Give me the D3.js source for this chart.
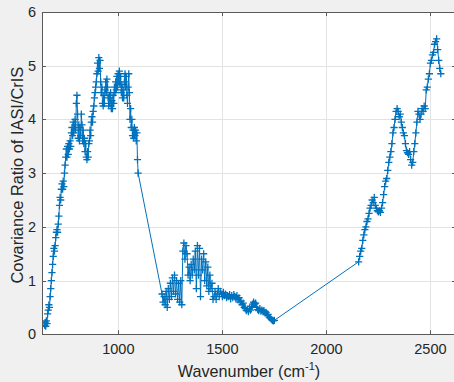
<!DOCTYPE html>
<html>
<head>
<meta charset="utf-8">
<script src="https://cdn.jsdelivr.net/npm/d3@7"></script>
<style>
  html, body { margin: 0; padding: 0; background: #f0f0f0; }
  svg { display: block; }
  text { font-family: "Liberation Sans", Arial, Helvetica, sans-serif; fill: #262626; }
</style>
</head>
<body>
<svg id="chart" width="454" height="382"></svg>
<script>
// ---- Data ----
// Channel grids (wavenumber start, spacing) for the three bands
const lwStart = 645, lwStep = 3;
const mwStart = 1210, mwStep = 5;
const swStart = 2155, swStep = 5;

const lwRatio = [
  0.17,0.22,0.15,0.25,0.2,0.38,0.45,0.55,0.5,0.7,
  0.85,1.0,1.15,1.3,1.45,1.6,1.55,1.65,1.8,1.9,
  1.95,1.9,2.05,2.2,2.4,2.55,2.5,2.7,2.8,2.7,
  2.85,2.75,3.0,3.15,3.3,3.45,3.3,3.5,3.35,3.55,
  3.45,3.6,3.5,3.75,3.85,3.7,3.95,3.75,3.85,4.0,
  3.8,4.3,4.45,4.1,3.65,3.9,3.6,3.85,3.7,4.1,
  3.9,3.6,3.8,3.55,3.65,3.4,3.55,3.3,3.25,3.4,
  3.3,3.55,3.6,3.8,3.7,3.95,4.05,3.95,4.15,4.25,
  4.4,4.5,4.6,4.7,4.85,5.05,4.9,5.15,4.95,5.1,
  4.7,4.5,4.6,4.3,4.25,4.45,4.3,4.55,4.7,4.5,
  4.75,4.6,4.4,4.25,4.45,4.3,4.5,4.2,4.35,4.2,
  4.45,4.3,4.6,4.5,4.7,4.55,4.8,4.6,4.85,4.7,
  4.9,4.65,4.8,4.5,4.65,4.4,4.55,4.4,4.7,4.85,
  4.6,4.8,4.45,4.3,4.6,4.85,4.5,4.0,4.2,3.85,
  4.0,3.7,3.8,3.65,3.85,3.7,3.8,3.6,3.75,3.25,
  3.0
];

const mwRatio = [
  0.75,0.6,0.7,0.55,0.8,0.5,0.85,0.65,0.95,0.7,
  1.05,0.8,1.1,0.75,1.0,0.65,0.95,0.6,1.0,0.55,
  1.55,1.7,1.4,1.65,1.5,1.1,1.25,1.0,1.3,1.1,
  1.4,1.2,1.55,0.85,1.65,1.1,1.6,0.7,1.4,1.2,
  1.5,1.0,1.35,0.9,1.25,0.8,1.1,0.85,0.95,0.65,
  0.7,0.8,0.65,0.75,0.85,0.7,0.8,0.75,0.7,0.78,
  0.72,0.75,0.68,0.72,0.7,0.74,0.66,0.72,0.68,0.74,
  0.7,0.66,0.72,0.64,0.68,0.6,0.62,0.55,0.58,0.5,
  0.48,0.44,0.47,0.42,0.48,0.45,0.52,0.56,0.6,0.56,
  0.58,0.5,0.46,0.44,0.48,0.43,0.45,0.42,0.44,0.4,
  0.41,0.36,0.37,0.32,0.3,0.28,0.26,0.25,0.26
];

const swRatio = [
  1.35,1.45,1.55,1.6,1.75,1.85,1.95,2.0,2.1,2.15,
  2.25,2.35,2.4,2.5,2.45,2.55,2.4,2.35,2.3,2.28,
  2.3,2.27,2.35,2.45,2.6,2.75,2.85,2.9,3.05,3.2,
  3.3,3.4,3.55,3.75,3.85,4.0,4.15,4.2,4.15,4.05,
  4.1,3.95,3.85,3.75,3.7,3.55,3.42,3.38,3.35,3.4,
  3.25,3.15,3.2,3.4,3.55,3.75,3.95,4.15,4.1,4.0,
  4.1,4.2,4.15,4.25,4.2,4.55,4.6,4.75,4.85,5.05,
  5.1,5.2,5.25,5.4,5.45,5.5,5.3,5.1,4.95,4.85
];

const xTicks = [1000, 1500, 2000, 2500];
const yTicks = [0, 1, 2, 3, 4, 5, 6];
const xLabel = "Wavenumber (cm";
const xLabelSup = "-1";
const yLabel = "Covariance Ratio of IASI/CrIS";

function draw() {
  const points = [];
  lwRatio.forEach((v, i) => points.push({ wn: lwStart + i * lwStep, v }));
  mwRatio.forEach((v, i) => points.push({ wn: mwStart + i * mwStep, v }));
  swRatio.forEach((v, i) => points.push({ wn: swStart + i * swStep, v }));

  const svg = d3.select("#chart");
  const pL = 42, pR = 456, pT = 12, pB = 334.3;
  const color = "#0072BD";

  const x = d3.scaleLinear().domain([633, 2623]).range([pL, pR]);
  const y = d3.scaleLinear().domain([0, 6]).range([pB, pT]);

  svg.append("rect").attr("x", pL).attr("y", pT)
    .attr("width", pR - pL).attr("height", pB - pT).attr("fill", "#ffffff");

  const grid = svg.append("g").attr("stroke", "#e3e3e3").attr("stroke-width", 1);
  xTicks.forEach(t => grid.append("line")
    .attr("x1", Math.round(x(t)) + 0.5).attr("x2", Math.round(x(t)) + 0.5)
    .attr("y1", pT).attr("y2", pB));
  yTicks.forEach(t => grid.append("line")
    .attr("x1", pL).attr("x2", pR)
    .attr("y1", Math.round(y(t)) + 0.5).attr("y2", Math.round(y(t)) + 0.5));

  svg.append("clipPath").attr("id", "clip").append("rect")
    .attr("x", pL).attr("y", pT).attr("width", pR - pL).attr("height", pB - pT);

  const plot = svg.append("g").attr("clip-path", "url(#clip)");

  const line = d3.line().x(d => x(d.wn)).y(d => y(d.v));
  plot.append("path").datum(points)
    .attr("d", line).attr("fill", "none")
    .attr("stroke", color).attr("stroke-width", 1);

  const ms = 3.6;
  plot.append("path")
    .attr("d", points.map(d => {
      const px = x(d.wn), py = y(d.v);
      return `M${px - ms},${py}h${2 * ms}M${px},${py - ms}v${2 * ms}`;
    }).join(""))
    .attr("fill", "none").attr("stroke", color).attr("stroke-width", 1.3);

  const axisColor = "#5a5a5a";
  const tickLen = 4;
  const ax = svg.append("g").attr("stroke", axisColor).attr("stroke-width", 1).attr("fill", "none");
  ax.append("line").attr("x1", pL + 0.5).attr("x2", pL + 0.5).attr("y1", pT).attr("y2", pB + 0.5);
  ax.append("line").attr("x1", pL).attr("x2", pR).attr("y1", Math.round(pB) + 0.5).attr("y2", Math.round(pB) + 0.5);
  ax.append("line").attr("x1", pL).attr("x2", pR).attr("y1", pT + 0.5).attr("y2", pT + 0.5);
  ax.append("line").attr("x1", pR - 0.5).attr("x2", pR - 0.5).attr("y1", pT).attr("y2", pB);

  xTicks.forEach(t => {
    const px = Math.round(x(t)) + 0.5;
    ax.append("line").attr("x1", px).attr("x2", px).attr("y1", pB).attr("y2", pB - tickLen);
    ax.append("line").attr("x1", px).attr("x2", px).attr("y1", pT).attr("y2", pT + tickLen);
  });
  yTicks.forEach(t => {
    const py = Math.round(y(t)) + 0.5;
    ax.append("line").attr("x1", pL).attr("x2", pL + tickLen).attr("y1", py).attr("y2", py);
    ax.append("line").attr("x1", pR).attr("x2", pR - tickLen).attr("y1", py).attr("y2", py);
  });

  svg.append("g").selectAll("text").data(xTicks).join("text")
    .attr("x", d => x(d)).attr("y", pB + 20)
    .attr("text-anchor", "middle").attr("font-size", "14.5px")
    .text(d => d);
  svg.append("g").selectAll("text").data(yTicks).join("text")
    .attr("x", pL - 6).attr("y", d => y(d) + 5)
    .attr("text-anchor", "end").attr("font-size", "14.5px")
    .text(d => d);

  const xl = svg.append("text")
    .attr("x", (pL + pR) / 2).attr("y", 377)
    .attr("text-anchor", "middle").attr("font-size", "16.2px");
  xl.append("tspan").text(xLabel);
  xl.append("tspan").attr("font-size", "11px").attr("dy", -7).text(xLabelSup);
  xl.append("tspan").attr("dy", 7).text(")");

  svg.append("text")
    .attr("transform", `translate(23,${(pT + pB) / 2 + 2}) rotate(-90)`)
    .attr("text-anchor", "middle").attr("font-size", "16.4px")
    .text(yLabel);
}
draw();
</script>
</body>
</html>
